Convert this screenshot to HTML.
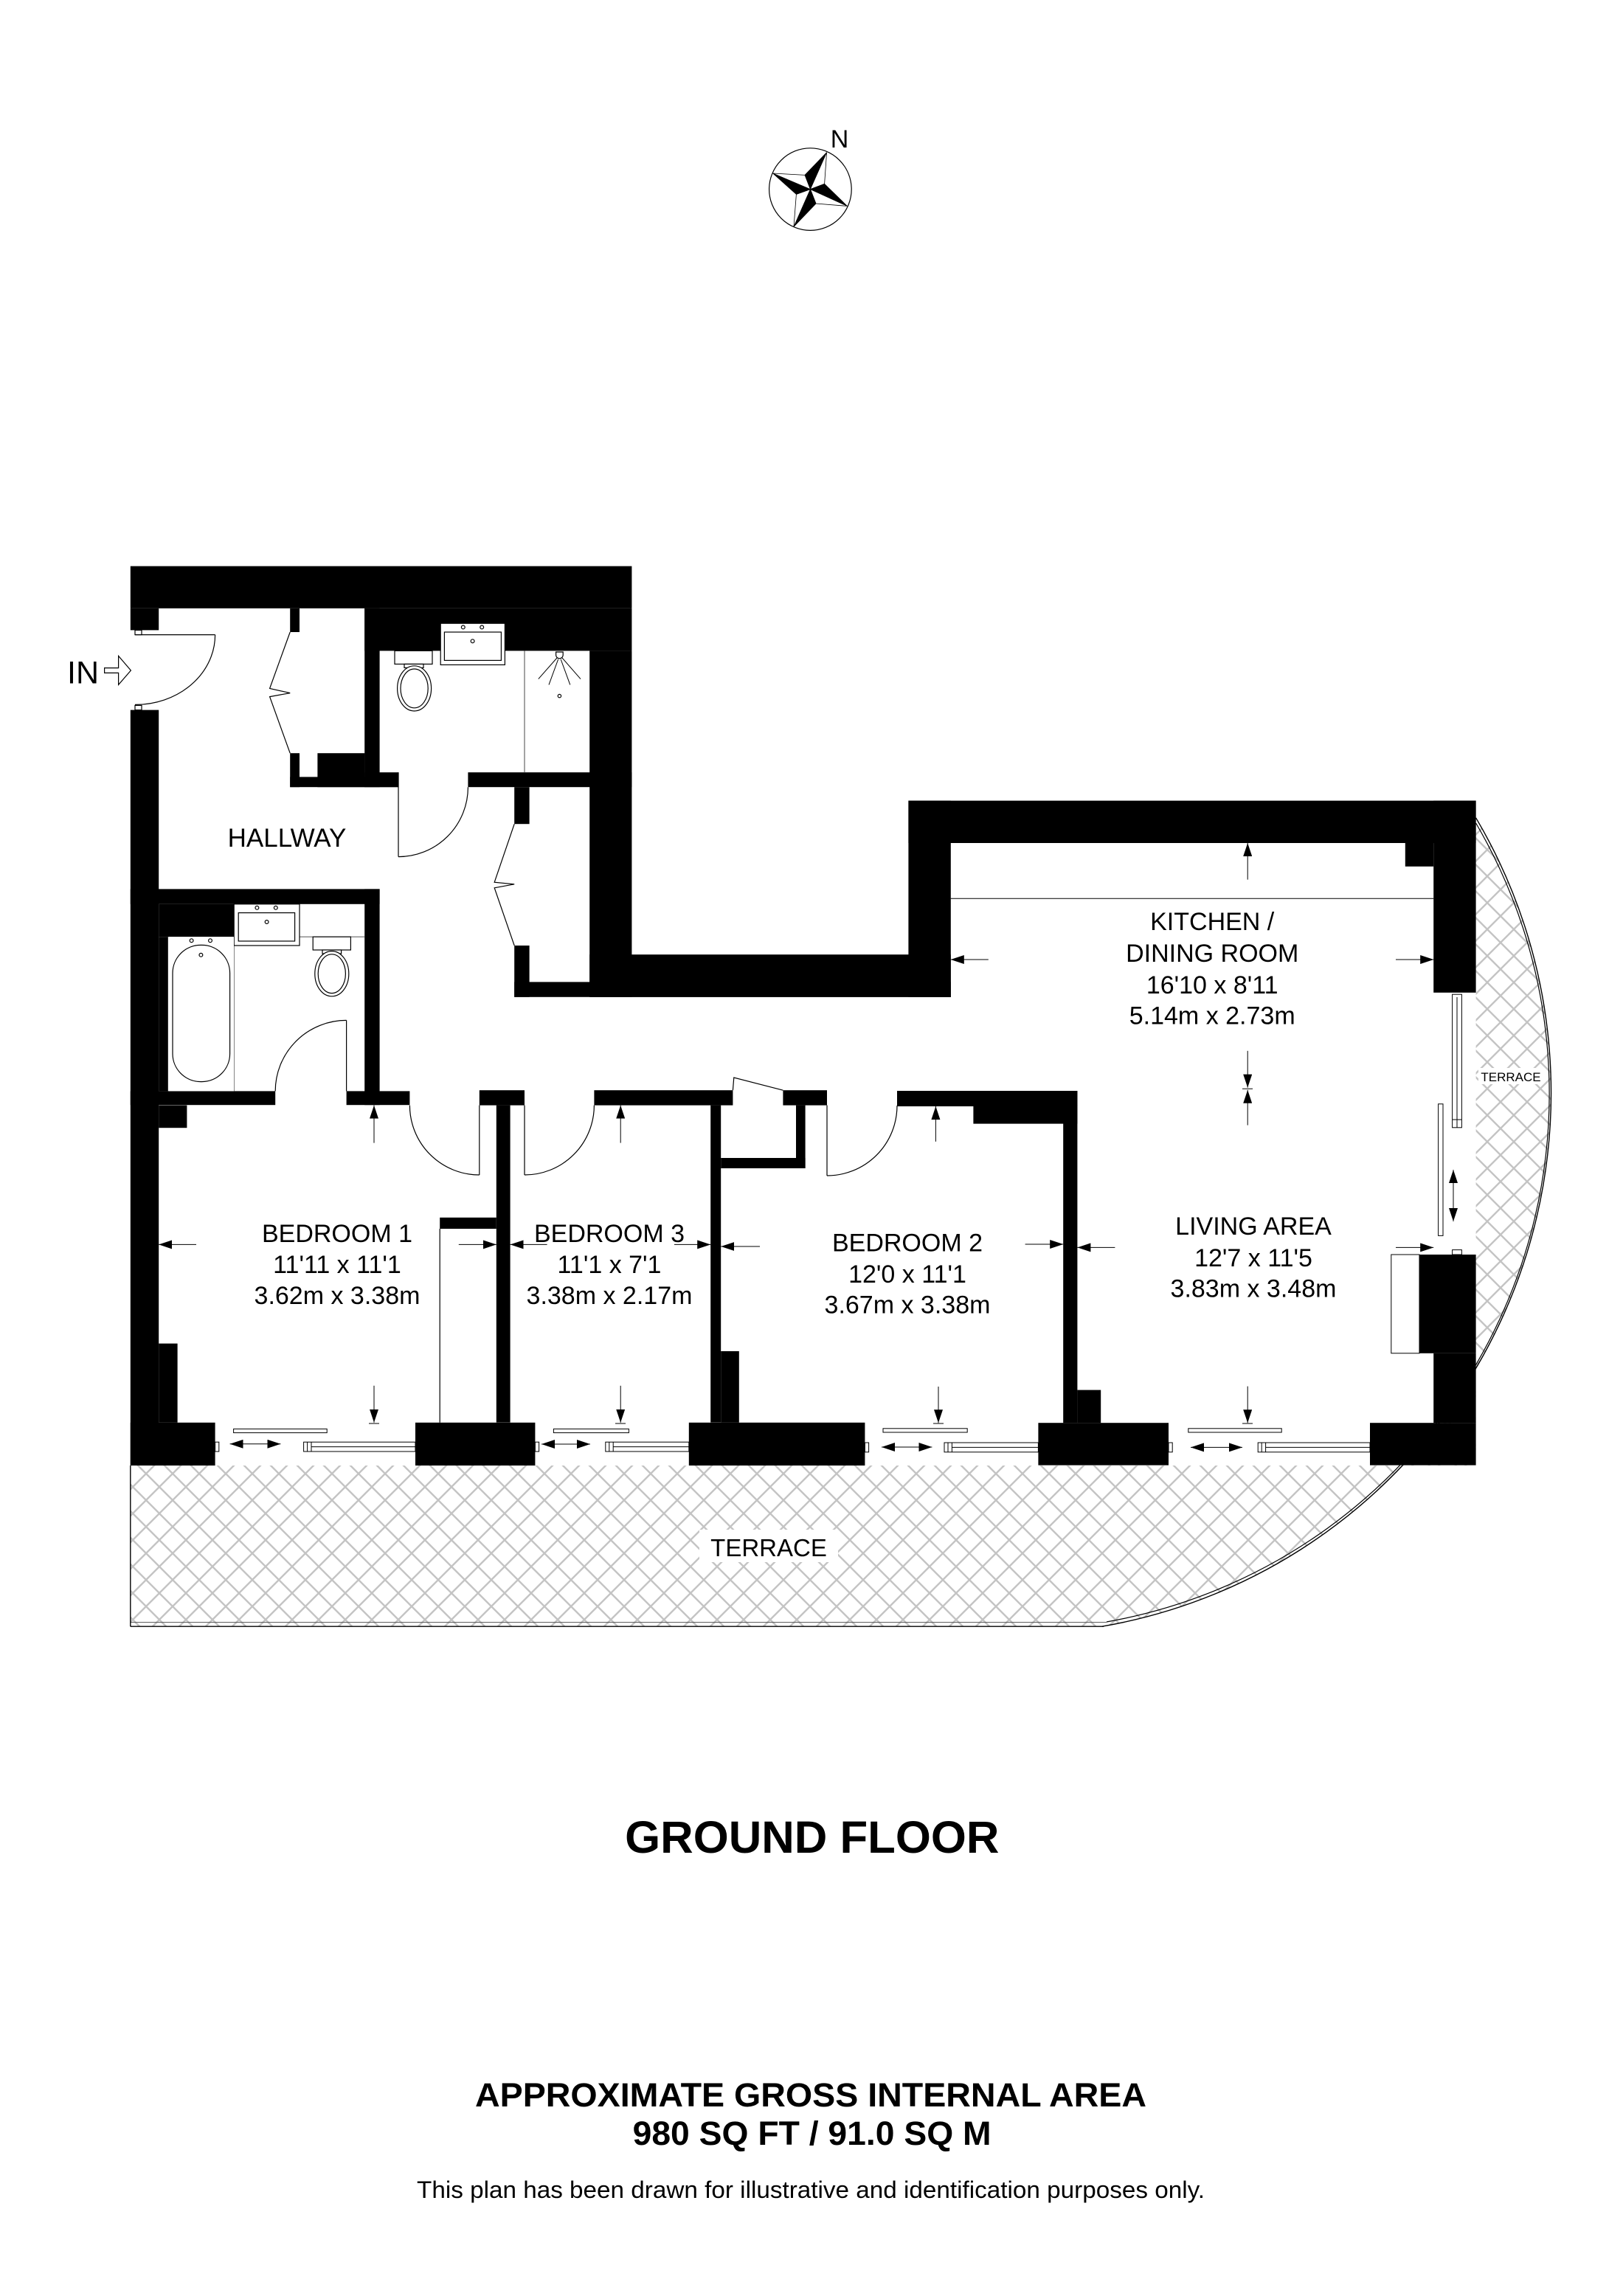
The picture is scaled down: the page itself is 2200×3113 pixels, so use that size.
<!DOCTYPE html>
<html><head><meta charset="utf-8"><style>
html,body{margin:0;padding:0;background:#fff;}
svg{display:block;}
text{font-family:"Liberation Sans",Arial,sans-serif;fill:#000;}
</style></head><body>
<svg width="2200" height="3113" viewBox="0 0 1100 1556.5" xmlns="http://www.w3.org/2000/svg">
<defs>
<pattern id="hatch" patternUnits="userSpaceOnUse" width="18" height="18">
<path d="M0,0 L18,18 M18,0 L0,18" stroke="#c4c4c4" stroke-width="1.2" fill="none"/>
</pattern>
<marker id="ah" markerUnits="userSpaceOnUse" markerWidth="9" markerHeight="6" refX="9" refY="3" orient="auto-start-reverse">
<path d="M0,0 L9,3 L0,6 z" fill="#000"/>
</marker>
</defs>
<rect width="1100" height="1556.5" fill="#fff"/>

<!-- Terrace -->
<path d="M88.4 993.5 L1000.3 993.5 L1000.3 554.4 A367 367 0 0 1 746.9 1102.6 L88.4 1102.6 Z" fill="url(#hatch)"/>
<path d="M1000.3 554.4 A367 367 0 0 1 746.9 1102.6" fill="none" stroke="#000" stroke-width="0.7"/>
<path d="M1000.3 558 A363.5 363.5 0 0 1 750 1099.5" fill="none" stroke="#000" stroke-width="0.6"/>
<line x1="88.4" y1="1102.6" x2="748" y2="1102.6" stroke="#000" stroke-width="0.7"/>
<line x1="88.4" y1="1099.8" x2="750" y2="1099.8" stroke="#555" stroke-width="0.5"/>
<line x1="88.4" y1="993.5" x2="88.4" y2="1102.6" stroke="#000" stroke-width="0.7"/>
<rect x="474" y="1037" width="94" height="22" fill="#fff"/>
<text x="521" y="1055" font-size="16.5" text-anchor="middle">TERRACE</text>
<rect x="1002" y="724" width="44" height="11" fill="#fff"/>
<text x="1024" y="733" font-size="8.5" text-anchor="middle">TERRACE</text>

<!-- Walls -->
<g fill="#000">
<rect x="88.4" y="383.8" width="339.8" height="28.6"/>
<rect x="88.4" y="412.4" width="19.2" height="14.8"/>
<rect x="88.4" y="481.3" width="19.2" height="512.2"/>
<rect x="196.6" y="412.4" width="6.4" height="16.1"/>
<rect x="196.6" y="510.6" width="6.4" height="23"/>
<rect x="196.6" y="526.7" width="73.4" height="6.9"/>
<rect x="215.2" y="510.6" width="32" height="23"/>
<rect x="247.1" y="412.4" width="10.2" height="121.2"/>
<rect x="247.1" y="412.4" width="181.1" height="28.8"/>
<rect x="247.1" y="523.6" width="22.9" height="10"/>
<rect x="317.2" y="523.6" width="111" height="10"/>
<rect x="399.6" y="441.2" width="28.6" height="234.7"/>
<rect x="348.6" y="533.6" width="10.2" height="25"/>
<rect x="348.6" y="641" width="10.2" height="34.9"/>
<rect x="348.6" y="665.7" width="295.8" height="10.2"/>
<rect x="399.6" y="647.1" width="244.8" height="28.8"/>
<rect x="615.7" y="542.8" width="28.7" height="133.2"/>
<rect x="615.7" y="542.8" width="384.6" height="28.7"/>
<rect x="971.6" y="542.8" width="28.7" height="130.1"/>
<rect x="952.4" y="571.5" width="19.2" height="15.9"/>
<rect x="88.4" y="602.7" width="168.9" height="10.2"/>
<rect x="107.6" y="612.9" width="51" height="22.2"/>
<rect x="107.6" y="635.1" width="6.3" height="104.6"/>
<rect x="247.1" y="602.7" width="10.2" height="146.4"/>
<rect x="88.4" y="739.7" width="98.2" height="9.4"/>
<rect x="234.8" y="739.7" width="42.9" height="9.4"/>
<rect x="324.9" y="739.1" width="30.6" height="10.2"/>
<rect x="402.7" y="739.1" width="94" height="10.2"/>
<rect x="530.7" y="739.1" width="29.8" height="10.2"/>
<rect x="608" y="739.5" width="122.2" height="10.5"/>
<rect x="659.7" y="739.5" width="70.5" height="22.3"/>
<rect x="107.6" y="749.3" width="19.1" height="15.3"/>
<rect x="107.6" y="910.8" width="12.7" height="53.6"/>
<rect x="88.4" y="964.4" width="57.4" height="29.1"/>
<rect x="336.4" y="749.3" width="9.4" height="215"/>
<rect x="298.1" y="825.4" width="38.3" height="7.6"/>
<rect x="281.5" y="964.4" width="81.2" height="29.1"/>
<rect x="481.6" y="749.3" width="7" height="215"/>
<rect x="488.6" y="916" width="12.3" height="48.4"/>
<rect x="488.6" y="785" width="57.2" height="7"/>
<rect x="539.5" y="749.3" width="6.3" height="42.7"/>
<rect x="466.9" y="964.4" width="119.3" height="29.1"/>
<rect x="720.6" y="749.3" width="9.6" height="215.3"/>
<rect x="730.2" y="942.3" width="15.9" height="22.3"/>
<rect x="703.7" y="964.6" width="88.3" height="28.7"/>
<rect x="962" y="850.5" width="38.3" height="66.9"/>
<rect x="971.6" y="917.4" width="28.7" height="47.2"/>
<rect x="928.5" y="964.6" width="71.8" height="28.7"/>
</g>

<!-- thin lines, doors, fixtures -->
<g fill="none" stroke="#000" stroke-width="0.6">
<line x1="298.1" y1="833" x2="298.1" y2="964.4"/>
<line x1="644.4" y1="609.1" x2="971.6" y2="609.1" stroke-width="0.5"/>
<line x1="355.5" y1="441.2" x2="355.5" y2="523.6" stroke="#666"/>
<line x1="158.6" y1="635.1" x2="158.6" y2="739.7" stroke="#666"/>
<line x1="203" y1="635.1" x2="247.1" y2="635.1" stroke="#666"/>
<line x1="91.5" y1="430.3" x2="145.8" y2="430.3"/>
<path d="M145.8 430.3 A54 47.4 0 0 1 91.5 477.7"/>
<rect x="91.5" y="427.2" width="4.5" height="3.1" fill="#fff"/>
<rect x="91.5" y="478.2" width="4.5" height="3.1" fill="#fff"/>
<line x1="270" y1="523.6" x2="270" y2="580.8"/>
<path d="M270 580.8 A47.2 47.2 0 0 0 317.2 533.6"/>
<line x1="234.8" y1="691.7" x2="234.8" y2="739.7"/>
<path d="M234.8 691.7 A48.2 48 0 0 0 186.6 739.7"/>
<line x1="324.9" y1="749.3" x2="324.9" y2="796.5"/>
<path d="M277.7 749.3 A47.2 47.2 0 0 0 324.9 796.5"/>
<line x1="355.5" y1="749.3" x2="355.5" y2="796.5"/>
<path d="M355.5 796.5 A47.2 47.2 0 0 0 402.7 749.3"/>
<line x1="560.5" y1="749.3" x2="560.5" y2="797"/>
<path d="M560.5 797 A47.5 47.5 0 0 0 608 749.5"/>
<polyline points="496.7,739.1 497.4,730.5 530.7,739.1"/>
<polyline points="196.6,428.5 182.8,466.7 196.6,469.8 182.8,472.3 196.6,510.6"/>
<polyline points="348.6,558.6 335.1,598.1 348.6,599.4 335.1,601.9 348.6,641"/>
<g fill="#fff">
<rect x="298.6" y="422.6" width="43.6" height="28.1"/>
<rect x="301.2" y="428.5" width="38.5" height="19.2"/>
<rect x="267.5" y="441.2" width="25.5" height="9"/>
<rect x="274" y="450.2" width="13" height="2.5"/>
<ellipse cx="280.8" cy="466.7" rx="11.5" ry="15.3"/>
<ellipse cx="280.8" cy="466.7" rx="9.3" ry="13.2"/>
<rect x="158.6" y="612.9" width="44.4" height="28.1"/>
<rect x="161.6" y="618.8" width="38.2" height="19.2"/>
<rect x="212.1" y="635.1" width="25.6" height="8.9"/>
<rect x="218.5" y="644" width="12.8" height="2.5"/>
<ellipse cx="224.9" cy="660.1" rx="11.5" ry="15.3"/>
<ellipse cx="224.9" cy="660.1" rx="9.3" ry="13.2"/>
<rect x="114.5" y="635.1" width="44" height="104.6" stroke="none"/>
<rect x="117" y="640.7" width="38.8" height="92.6" rx="19" ry="19"/>
<rect x="942.9" y="850.5" width="19.1" height="66.9" stroke-width="0.5"/>
</g>
<circle cx="313.9" cy="425.2" r="1.2"/><circle cx="326.6" cy="425.2" r="1.2"/><circle cx="320.3" cy="434.6" r="1.2"/>
<path d="M376.8 442 L381.6 442 L381.6 444 A2.4 2.4 0 0 1 376.8 444 Z"/>
<path d="M377.5 446 L364.9 460.3 M378.3 447 L372 464.2 M380.1 447 L386.4 464.2 M381 446 L393.5 460.3" stroke-width="0.5"/>
<circle cx="379.2" cy="471.8" r="1.1"/>
<circle cx="174.2" cy="615.4" r="1.2"/><circle cx="186.9" cy="615.4" r="1.2"/><circle cx="180.8" cy="625" r="1.2"/>
<circle cx="129.8" cy="637.6" r="1.2"/><circle cx="142.5" cy="637.6" r="1.2"/><circle cx="136.2" cy="647.4" r="1.2"/>
</g>

<!-- Windows -->
<g fill="#fff" stroke="#000" stroke-width="0.5">
<rect x="158.3" y="968.7" width="63.3" height="2.6"/>
<rect x="205.8" y="977.6" width="75.7" height="6.4"/>
<line x1="211" y1="980.8" x2="281.5" y2="980.8"/><line x1="208.3" y1="977.6" x2="208.3" y2="984"/><line x1="211" y1="977.6" x2="211" y2="984"/>
<rect x="145.8" y="977.6" width="2.6" height="6.4"/>
<rect x="375.2" y="968.7" width="51" height="2.6"/>
<rect x="410.4" y="977.6" width="56.5" height="6.4"/>
<line x1="415.6" y1="980.8" x2="466.9" y2="980.8"/><line x1="412.9" y1="977.6" x2="412.9" y2="984"/><line x1="415.6" y1="977.6" x2="415.6" y2="984"/>
<rect x="362.7" y="977.6" width="2.6" height="6.4"/>
<rect x="598.5" y="968.4" width="57.1" height="2.6"/>
<rect x="640" y="978" width="63.7" height="6.4"/>
<line x1="645.2" y1="981.2" x2="703.7" y2="981.2"/><line x1="642.5" y1="978" x2="642.5" y2="984.4"/><line x1="645.2" y1="978" x2="645.2" y2="984.4"/>
<rect x="586.2" y="978" width="2.6" height="6.4"/>
<rect x="805.4" y="968.4" width="63.2" height="2.6"/>
<rect x="852.6" y="978" width="75.9" height="6.4"/>
<line x1="857.8" y1="981.2" x2="928.5" y2="981.2"/><line x1="855.1" y1="978" x2="855.1" y2="984.4"/><line x1="857.8" y1="978" x2="857.8" y2="984.4"/>
<rect x="792" y="978" width="2.6" height="6.4"/>
<rect x="984.3" y="674.1" width="6.4" height="90.3"/>
<line x1="987.5" y1="676" x2="987.5" y2="764.4"/><line x1="984.3" y1="759" x2="990.7" y2="759"/>
<rect x="974.8" y="748.4" width="3.2" height="89.3"/>
<rect x="984.3" y="847.3" width="6.4" height="3.2"/>
</g>

<!-- Dimension arrows -->
<g stroke="#000" stroke-width="0.5" fill="none">
<line x1="253.5" y1="774.8" x2="253.5" y2="749.3" marker-end="url(#ah)"/>
<line x1="253.5" y1="939.4" x2="253.5" y2="964.4" marker-end="url(#ah)"/>
<line x1="250" y1="965" x2="257" y2="965"/>
<line x1="133" y1="843.7" x2="107.6" y2="843.7" marker-end="url(#ah)"/>
<line x1="310.9" y1="843.7" x2="336.4" y2="843.7" marker-end="url(#ah)"/>
<line x1="370.8" y1="843.7" x2="345.8" y2="843.7" marker-end="url(#ah)"/>
<line x1="457" y1="843.7" x2="481.6" y2="843.7" marker-end="url(#ah)"/>
<line x1="420.6" y1="774.8" x2="420.6" y2="749.3" marker-end="url(#ah)"/>
<line x1="420.6" y1="939.4" x2="420.6" y2="964.4" marker-end="url(#ah)"/>
<line x1="417" y1="965" x2="424" y2="965"/>
<line x1="515" y1="845" x2="488.6" y2="845" marker-end="url(#ah)"/>
<line x1="694.8" y1="843.5" x2="720.6" y2="843.5" marker-end="url(#ah)"/>
<line x1="634.2" y1="773.9" x2="634.2" y2="750" marker-end="url(#ah)"/>
<line x1="636" y1="940" x2="636" y2="964.6" marker-end="url(#ah)"/>
<line x1="632.5" y1="965" x2="639.5" y2="965"/>
<line x1="755.7" y1="845.7" x2="730.2" y2="845.7" marker-end="url(#ah)"/>
<line x1="946" y1="845.7" x2="971.6" y2="845.7" marker-end="url(#ah)"/>
<line x1="845.6" y1="939.8" x2="845.6" y2="964.6" marker-end="url(#ah)"/>
<line x1="842" y1="965" x2="849" y2="965"/>
<line x1="845.6" y1="596.3" x2="845.6" y2="571.5" marker-end="url(#ah)"/>
<line x1="669.9" y1="650.5" x2="644.4" y2="650.5" marker-end="url(#ah)"/>
<line x1="946" y1="650.5" x2="971.6" y2="650.5" marker-end="url(#ah)"/>
<line x1="845.6" y1="712.4" x2="845.6" y2="737.3" marker-end="url(#ah)"/>
<line x1="845.6" y1="762.8" x2="845.6" y2="738.9" marker-end="url(#ah)"/>
<line x1="842" y1="738.1" x2="849" y2="738.1"/>
<line x1="155.8" y1="978.9" x2="190.2" y2="978.9" marker-start="url(#ah)" marker-end="url(#ah)"/>
<line x1="367" y1="979" x2="400" y2="979" marker-start="url(#ah)" marker-end="url(#ah)"/>
<line x1="597.5" y1="981" x2="631.7" y2="981" marker-start="url(#ah)" marker-end="url(#ah)"/>
<line x1="807" y1="981.2" x2="842" y2="981.2" marker-start="url(#ah)" marker-end="url(#ah)"/>
<line x1="985" y1="793" x2="985" y2="828" marker-start="url(#ah)" marker-end="url(#ah)"/>
</g>

<!-- IN arrow -->
<text x="45.5" y="463.3" font-size="21.5">IN</text>
<path d="M70.8 452.8 L80.3 452.8 L80.3 444.7 L88.7 454.5 L80.3 464.2 L80.3 456.2 L70.8 456.2 Z" fill="#fff" stroke="#000" stroke-width="0.6"/>

<!-- Room labels -->
<g font-size="17" text-anchor="middle">
<text x="194.5" y="573.9" font-size="17.5">HALLWAY</text>
<text x="228.5" y="841.9">BEDROOM 1</text>
<text x="228.5" y="862.9">11'11 x 11'1</text>
<text x="228.5" y="884">3.62m x 3.38m</text>
<text x="413" y="841.9">BEDROOM 3</text>
<text x="413" y="862.9">11'1 x 7'1</text>
<text x="413" y="884">3.38m x 2.17m</text>
<text x="615" y="848.2">BEDROOM 2</text>
<text x="615" y="869.6">12'0 x 11'1</text>
<text x="615" y="890.3">3.67m x 3.38m</text>
<text x="821.6" y="630.4">KITCHEN /</text>
<text x="821.6" y="652.1">DINING ROOM</text>
<text x="821.6" y="673.5">16'10 x 8'11</text>
<text x="821.6" y="694.2">5.14m x 2.73m</text>
<text x="849.5" y="837.1">LIVING AREA</text>
<text x="849.5" y="858.4">12'7 x 11'5</text>
<text x="849.5" y="879.2">3.83m x 3.48m</text>
</g>

<!-- Compass -->
<circle cx="549.2" cy="128.3" r="27.9" fill="none" stroke="#000" stroke-width="0.6"/>
<g stroke="#000" stroke-width="0.4">
<path d="M560.3 103.3 L545.5 118.7 L549.2 128.3 Z" fill="#000"/>
<path d="M560.3 103.3 L549.2 128.3 L558.8 124.7 Z" fill="#fff"/>
<path d="M574.2 139.7 L558.8 124.7 L549.2 128.3 Z" fill="#000"/>
<path d="M574.2 139.7 L549.2 128.3 L553 138 Z" fill="#fff"/>
<path d="M538 153.7 L553 138 L549.2 128.3 Z" fill="#000"/>
<path d="M538 153.7 L549.2 128.3 L539.7 131.7 Z" fill="#fff"/>
<path d="M523.8 117.5 L539.7 131.7 L549.2 128.3 Z" fill="#000"/>
<path d="M523.8 117.5 L549.2 128.3 L545.5 118.7 Z" fill="#fff"/>
</g>
<text x="569" y="100" font-size="17" text-anchor="middle">N</text>

<!-- Footer -->
<text x="550.4" y="1256" font-size="30.5" font-weight="bold" text-anchor="middle" textLength="253.6" lengthAdjust="spacingAndGlyphs">GROUND FLOOR</text>
<text x="549.5" y="1428" font-size="22.5" font-weight="bold" text-anchor="middle" textLength="455" lengthAdjust="spacingAndGlyphs">APPROXIMATE GROSS INTERNAL AREA</text>
<text x="550.3" y="1454" font-size="22.5" font-weight="bold" text-anchor="middle" textLength="243" lengthAdjust="spacingAndGlyphs">980 SQ FT / 91.0 SQ M</text>
<text x="549.5" y="1490" font-size="16" text-anchor="middle" textLength="534" lengthAdjust="spacingAndGlyphs">This plan has been drawn for illustrative and identification purposes only.</text>
</svg>
</body></html>
